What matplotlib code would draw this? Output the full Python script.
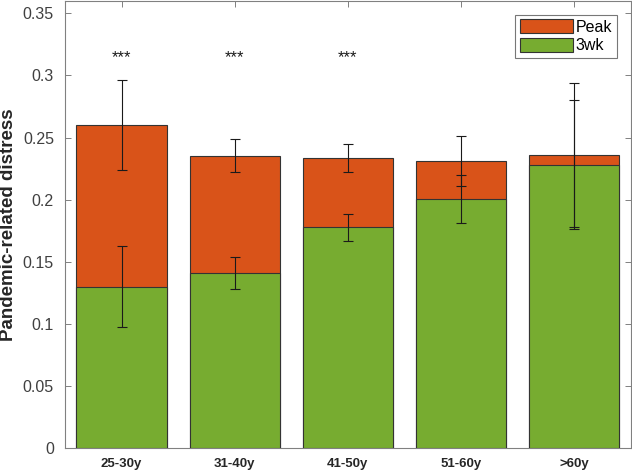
import matplotlib
matplotlib.use("Agg")
import matplotlib.pyplot as plt
from matplotlib.ticker import FuncFormatter
import numpy as np

plt.rcParams["font.family"] = ["Liberation Sans", "DejaVu Sans"]

groups = ["25-30y", "31-40y", "41-50y", "51-60y", ">60y"]
peak = [0.260, 0.2355, 0.2336, 0.2312, 0.2363]
peak_err = [0.036, 0.013, 0.011, 0.020, 0.058]
wk3 = [0.130, 0.1409, 0.1777, 0.2005, 0.2282]
wk3_err = [0.033, 0.013, 0.011, 0.019, 0.052]
stars = ["***", "***", "***", "", ""]

c_peak = "#D95319"
c_wk3 = "#77AC30"
spine_c = "#808080"
text_c = "#262626"

fig = plt.figure(figsize=(6.32, 4.73), dpi=100)
ax = fig.add_axes([0.103, 0.053, 0.895, 0.945])

x = np.arange(1, len(groups) + 1)
ax.bar(x, peak, width=0.8, color=c_peak, edgecolor="#333333", linewidth=0.8, label="Peak", zorder=2)
ax.bar(x, wk3, width=0.8, color=c_wk3, edgecolor="#333333", linewidth=0.8, label="3wk", zorder=3)
ax.errorbar(x, peak, yerr=peak_err, fmt="none", ecolor="#1a1a1a", elinewidth=0.8,
            capsize=3.3, capthick=0.8, zorder=4)
ax.errorbar(x, wk3, yerr=wk3_err, fmt="none", ecolor="#1a1a1a", elinewidth=0.8,
            capsize=3.3, capthick=0.8, zorder=4)

for xi, s in zip(x, stars):
    if s:
        ax.text(xi, 0.314, s, ha="center", va="center", fontsize=12, color="#1a1a1a")

ax.set_xlim(0.5, 5.5)
ax.set_ylim(0, 0.36)
ax.set_xticks(x)
ax.set_xticklabels(groups, fontweight="bold", fontsize=9.5, color=text_c)
ax.set_yticks(np.arange(0, 0.351, 0.05))
ax.yaxis.set_major_formatter(FuncFormatter(lambda v, p: f"{v:g}"))
ax.tick_params(axis="y", labelsize=11.5, labelcolor="#404040", pad=8)
ax.tick_params(axis="x", pad=7)
ax.tick_params(direction="in", top=True, right=True, length=4, width=0.7, color=spine_c)
ax.set_ylabel("Pandemic-related distress", fontweight="bold", fontsize=13.5, color=text_c, labelpad=4)

for sp in ax.spines.values():
    sp.set_color(spine_c)
    sp.set_linewidth(0.8)

leg = ax.legend(loc="upper right", fontsize=11.5, frameon=True, fancybox=False,
                handlelength=3.3, handleheight=0.95, borderpad=0.3, labelspacing=0.2,
                handletextpad=0.2, borderaxespad=0.85)
leg.get_frame().set_edgecolor("#555555")
leg.get_frame().set_linewidth(0.8)

fig.savefig("out.png", dpi=100)
